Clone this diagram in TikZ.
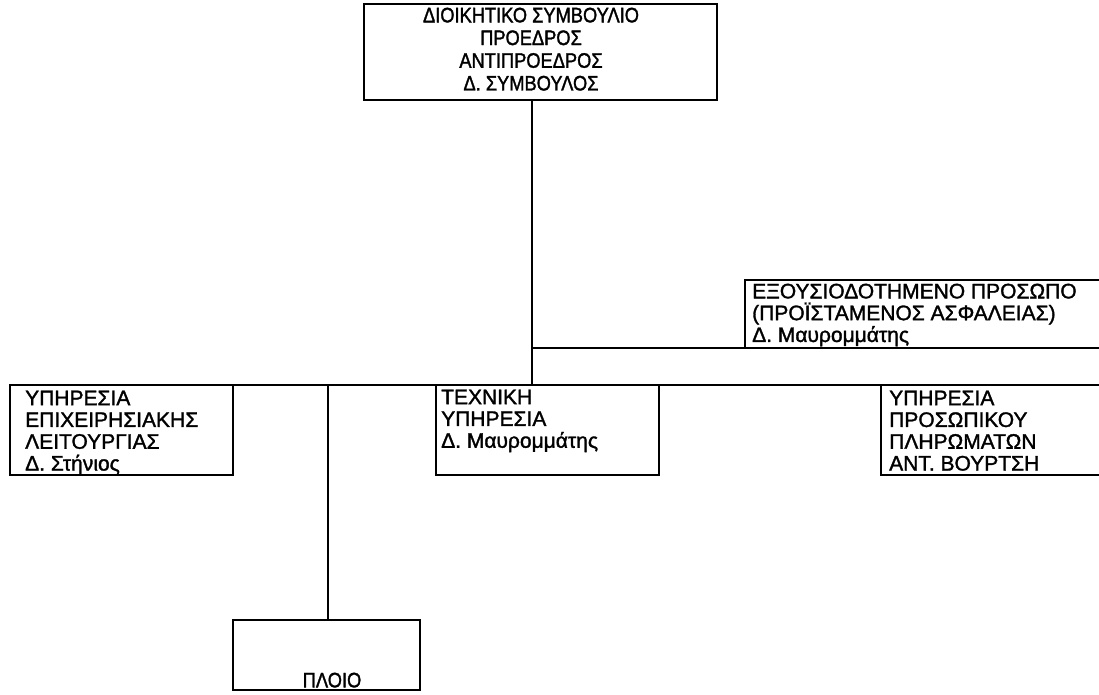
\documentclass[tikz,border=0pt]{standalone}
\usepackage{fontspec}
\setmainfont{Liberation Sans}
\newfontface\scanfont{Liberation Sans}[FakeBold=1.5]
\newfontface\scanfontc{Liberation Sans}[FakeBold=1.5,FakeStretch=0.87]
\begin{document}
\begin{tikzpicture}[x=1pt,y=-1pt,
  boxline/.style={draw=black,line width=2pt,outer sep=0pt,inner sep=0pt,anchor=north west},
  link/.style={draw=black,line width=2pt},
  txt/.style={inner sep=0pt,font=\scanfont\fontsize{21}{21.8}\selectfont,align=left,anchor=north west},
  ctxt/.style={inner sep=0pt,font=\scanfontc\fontsize{21}{22.7}\selectfont,align=center,anchor=north}]
\useasboundingbox (0,0) rectangle (1099,695);
\clip (0,0) rectangle (1099,695);
% boxes
\node[boxline,minimum width=353pt,minimum height=96pt] (board) at (364,4) {};
\node[boxline,minimum width=362pt,minimum height=68pt] (auth) at (745,280) {};
\node[boxline,minimum width=223pt,minimum height=90pt] (ops) at (10,385) {};
\node[boxline,minimum width=223pt,minimum height=90pt] (tech) at (436,385) {};
\node[boxline,minimum width=226pt,minimum height=90pt] (pers) at (881,385) {};
\node[boxline,minimum width=187pt,minimum height=70pt] (ship) at (233,620) {};
% coordinates
\coordinate (bt) at (532,100);
\coordinate (bj) at (532,348);
\coordinate (bb) at (532,385);
\coordinate (barL) at (10,385);
\coordinate (barR) at (1105,385);
\coordinate (st) at (328,385);
% texts
\node[ctxt] (tboard) at (531,7.5) {ΔΙΟΙΚΗΤΙΚΟ ΣΥΜΒΟΥΛΙΟ\\ΠΡΟΕΔΡΟΣ\\ΑΝΤΙΠΡΟΕΔΡΟΣ\\Δ. ΣΥΜΒΟΥΛΟΣ};
\node[txt] (tauth) at (752,283.5) {ΕΞΟΥΣΙΟΔΟΤΗΜΕΝΟ ΠΡΟΣΩΠΟ\\(ΠΡΟΪΣΤΑΜΕΝΟΣ ΑΣΦΑΛΕΙΑΣ)\\Δ. Μαυρομμάτης};
\node[txt] (tops) at (25,390.5) {ΥΠΗΡΕΣΙΑ\\ΕΠΙΧΕΙΡΗΣΙΑΚΗΣ\\ΛΕΙΤΟΥΡΓΙΑΣ\\Δ. Στήνιος};
\node[txt] (ttech) at (441,389.5) {ΤΕΧΝΙΚΗ\\ΥΠΗΡΕΣΙΑ\\Δ. Μαυρομμάτης};
\node[txt] (tpers) at (889,390.5) {ΥΠΗΡΕΣΙΑ\\ΠΡΟΣΩΠΙΚΟΥ\\ΠΛΗΡΩΜΑΤΩΝ\\ΑΝΤ. ΒΟΥΡΤΣΗ};
\node[ctxt] (tship) at (332,672.5) {ΠΛΟΙΟ};
% connectors
\draw[link] (board.south -| bt) -- (bb);
\draw[link] (bj) -- (bj -| auth.west);
\draw[link] (barL) -- (barR);
\draw[link] (st) -- (ship.north -| st);
\end{tikzpicture}
\end{document}
